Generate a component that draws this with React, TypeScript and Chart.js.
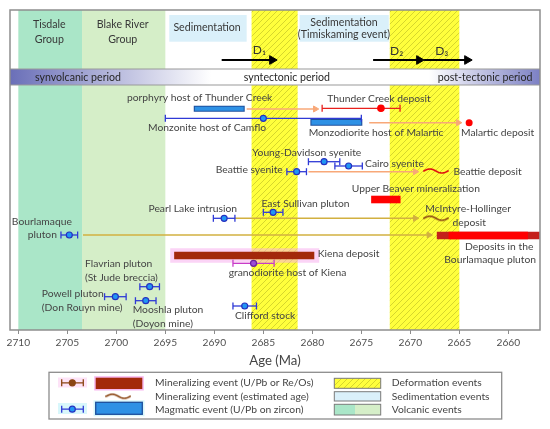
import React, { useEffect, useRef } from 'react';
import { Chart, registerables } from 'chart.js';
Chart.register(...registerables);

// ---------------- DATA ----------------
const AXIS_TICKS = [2710, 2705, 2700, 2695, 2690, 2685, 2680, 2675, 2670, 2665, 2660];
const AXIS_MIN = 2656.77;
const AXIS_MAX = 2710.85;

const VOLCANIC_GROUPS = ['Tisdale Group', 'Blake River Group'];
const VOLCANIC_FROM = [2710, 2703.5];
const VOLCANIC_TO = [2703.5, 2695];

const SEDIMENTATION_EVENTS = ['Sedimentation', 'Sedimentation (Timiskaming event)'];
const SEDIMENTATION_FROM = [2694.6, 2681.3];
const SEDIMENTATION_TO = [2686.7, 2672.2];

const DEFORMATION_FROM = [2686.2, 2672.1];
const DEFORMATION_TO = [2681.5, 2665.0];

const DEFORMATION_PHASES = ['D₁', 'D₂', 'D₃'];
const PHASE_FROM = [2689.25, 2673.8, 2668.6];
const PHASE_TO = [2684.1, 2669.1, 2664.2];

const PERIODS = ['synvolcanic period', 'syntectonic period', 'post-tectonic period'];

// Magmatic events, U/Pb on zircon (age ± error, Ma)
const MAGMATIC_NAMES = [
  'Monzonite host of Camflo', 'Young-Davidson syenite', 'Cairo syenite', 'Beattie syenite',
  'East Sullivan pluton', 'Pearl Lake intrusion', 'Bourlamaque pluton', 'granodiorite host of Kiena',
  'Flavrian pluton', 'Powell pluton', 'Mooshla pluton', 'Clifford stock',
];
const MAGMATIC_AGES = [2685.0, 2678.8, 2676.3, 2681.6, 2684.0, 2689.0, 2704.8, 2686.0, 2696.6, 2700.1, 2697.0, 2686.9];
const MAGMATIC_ERRORS = [10.0, 1.6, 1.4, 1.0, 1.0, 1.1, 0.85, 2.1, 1.0, 1.1, 1.05, 1.2];

// Magmatic events given as an age range
const MAGMATIC_RANGE_NAMES = ['porphyry host of Thunder Creek', 'Monzodiorite host of Malartic'];
const MAGMATIC_RANGE_FROM = [2692.1, 2680.2];
const MAGMATIC_RANGE_TO = [2686.9, 2674.9];

// Mineralizing events (U/Pb or Re/Os), dated points
const MINERAL_POINT_NAMES = ['Thunder Creek deposit', 'Malartic deposit'];
const MINERAL_POINT_AGES = [2673.0, 2664.0];
const MINERAL_POINT_OLDER = [2679.0, null];
const MINERAL_POINT_YOUNGER = [2671.05, null];

// Mineralizing events as ranges
const MINERAL_RANGE_NAMES = ['Kiena deposit', 'Upper Beaver mineralization', 'Deposits in the Bourlamaque pluton'];
const MINERAL_RANGE_FROM = [2694.1, 2674.0, 2667.3];
const MINERAL_RANGE_TO = [2679.8, 2671.0, 2656.8];

// Mineralizing events (estimated age)
const ESTIMATED_NAMES = ['Beattie deposit', 'McIntyre-Hollinger deposit'];
const ESTIMATED_AGES = [2667.4, 2667.4];

// Host → deposit links
const LINK_FROM = [2686.7, 2674.2, 2680.4, 2687.9, 2703.4];
const LINK_TO = [2679.7, 2665.1, 2669.5, 2669.5, 2668.1];

// ---------------- LAYOUT (row positions, styles) ----------------
const Y_MIN = 0;
const Y_MAX = 320;
const HEADER_BOX = [5, 31.7];
const PERIOD_BAR = [59, 75];
const PHASE_ROW = 50;
const MAGMATIC_ROWS = [108.3, 151.7, 156, 161.7, 202.3, 208.3, 225, 253.3, 276.7, 286.7, 290.7, 296];
const MAGMATIC_RANGE_ROWS = [98.7, 112.3];
const MAGMATIC_RANGE_H = [6, 6.7];
const MINERAL_POINT_ROWS = [98.3, 112.7];
const MINERAL_RANGE_ROWS = [245.5, 189.5, 225.5];
const ESTIMATED_ROWS = [161, 208.3];
const LINK_ROWS = [99, 112.7, 161.7, 208.3, 225];
const LINK_KIND = ['orange', 'orange', 'orange', 'gold', 'gold'];

const FONT = 'Lato, "Open Sans", sans-serif';
const TEXT = '#454545';
const LABEL_SIZE = 10.3;

// text labels: [text, age, row, align, style]
const LABELS: [string, number, number, CanvasTextAlign, string?][] = [
  ['Tisdale', 2706.84, 15, 'center', 'head'],
  ['Group', 2706.84, 29.3, 'center', 'head'],
  ['Blake River', 2699.35, 15, 'center', 'head'],
  ['Group', 2699.35, 29.3, 'center', 'head'],
  ['Sedimentation', 2690.74, 17.6, 'center', 'head'],
  ['Sedimentation', 2676.77, 12.7, 'center', 'head'],
  ['(Timiskaming event)', 2676.77, 24.5, 'center', 'head'],
  ['D₁', 2685.4, 40.5, 'center', 'phase'],
  ['D₂', 2671.4, 40.7, 'center', 'phase'],
  ['D₃', 2666.8, 40.7, 'center', 'phase'],
  ['synvolcanic period', 2708.3, 67.5, 'left', 'period'],
  ['syntectonic period', 2682.6, 67.5, 'center', 'period'],
  ['post-tectonic period', 2657.55, 67.5, 'right', 'period'],
  ['porphyry host of Thunder Creek', 2691.5, 88, 'center'],
  ['Thunder Creek deposit', 2673.2, 89, 'center'],
  ['Monzonite host of Camflo', 2690.74, 117.3, 'center'],
  ['Monzodiorite host of Malartic', 2673.5, 122.7, 'center'],
  ['Malartic deposit', 2661.1, 122.7, 'center'],
  ['Young-Davidson syenite', 2680.57, 142.3, 'center'],
  ['Cairo syenite', 2674.62, 154, 'left'],
  ['Beattie syenite', 2683.02, 160, 'right'],
  ['Beattie deposit', 2665.6, 161.7, 'left'],
  ['Upper Beaver mineralization', 2669.44, 178.3, 'center'],
  ['East Sullivan pluton', 2685.2, 194, 'left'],
  ['Pearl Lake intrusion', 2692.2, 198.3, 'center'],
  ['McIntyre-Hollinger', 2664.1, 198.3, 'center'],
  ['deposit', 2664.0, 212.7, 'center'],
  ['Bourlamaque', 2707.6, 211.7, 'center'],
  ['pluton', 2707.55, 225, 'center'],
  ['Deposits in the', 2657.45, 236.7, 'right'],
  ['Bourlamaque pluton', 2657.17, 250, 'right'],
  ['Kiena deposit', 2679.45, 244, 'left'],
  ['granodiorite host of Kiena', 2682.53, 262.7, 'center'],
  ['Flavrian pluton', 2703.2, 254, 'left'],
  ['(St Jude breccia)', 2703.2, 267.7, 'left'],
  ['Powell pluton', 2707.6, 283.3, 'left'],
  ['(Don Rouyn mine)', 2707.6, 297.3, 'left'],
  ['Mooshla pluton', 2698.33, 300, 'left'],
  ['(Doyon mine)', 2698.33, 313.3, 'left'],
  ['Clifford stock', 2687.9, 306, 'left'],
];

const C = {
  tisdale: '#aae6c8',
  blake: '#d5eec8',
  sed: '#daf0fa',
  yellow: '#ffff3c',
  hatch: '#d6d62c',
  blueLine: '#2f3ad6',
  blueDot: '#2196f3',
  blueDotEdge: '#2430c0',
  blueBar: '#2e91e5',
  blueBarEdge: '#1d4f9c',
  red: '#ff0000',
  redLine: '#e8201c',
  darkRed: '#a3290b',
  bourlEnd: '#c4201a',
  pinkHalo: 'rgba(247,170,238,0.5)',
  magenta: '#c83cc8',
  purpleDot: '#9b4fd6',
  purpleEdge: '#6a1fa0',
  orange: '#f8a878',
  gold: '#d2b040',
  brown: '#8b4513',
  frame: '#8e8e8e',
};

// ---------------- helpers ----------------
function makeHatch(): HTMLCanvasElement {
  const c = document.createElement('canvas');
  c.width = 6; c.height = 6;
  const g = c.getContext('2d')!;
  g.fillStyle = C.yellow; g.fillRect(0, 0, 6, 6);
  g.strokeStyle = C.hatch; g.lineWidth = 1;
  g.beginPath();
  g.moveTo(0, 6); g.lineTo(6, 0);
  g.moveTo(-1, 1); g.lineTo(1, -1);
  g.moveTo(5, 7); g.lineTo(7, 5);
  g.stroke();
  return c;
}

function makeSquiggle(color: string): HTMLCanvasElement {
  const c = document.createElement('canvas');
  c.width = 26; c.height = 8;
  const g = c.getContext('2d')!;
  g.strokeStyle = color; g.lineWidth = 1.7; g.lineCap = 'round';
  g.beginPath();
  for (let i = 0; i <= 30; i++) {
    const t = i / 30;
    const x = 1 + t * 24;
    const y = 4 - Math.sin(t * Math.PI * 2) * 2.0;
    if (i === 0) g.moveTo(x, y); else g.lineTo(x, y);
  }
  g.stroke();
  return c;
}

function seg(a: number, b: number, y: number, color: string, w: number) {
  return {
    data: [{ x: a, y }, { x: b, y }],
    borderColor: color, borderWidth: w, borderCapStyle: 'butt',
    pointRadius: 0,
  };
}

function arrow(a: number, b: number, y: number, color: string, w: number, r: number) {
  return {
    data: [{ x: a, y }, { x: b, y }],
    borderColor: color, borderWidth: w, borderCapStyle: 'butt',
    pointStyle: 'triangle', pointRotation: 90,
    pointRadius: [0, r], pointBackgroundColor: color, pointBorderColor: color, pointBorderWidth: 1,
  };
}

function errorBar(age: number, older: number, younger: number, y: number, line: string, fill: string, edge: string, r = 3) {
  return {
    data: [{ x: older, y }, { x: age, y }, { x: younger, y }],
    borderColor: line, borderWidth: 1.3,
    pointStyle: ['line', 'circle', 'line'],
    pointRotation: [90, 0, 90],
    pointRadius: [3.5, r, 3.5],
    pointBorderColor: [line, edge, line],
    pointBackgroundColor: [line, fill, line],
    pointBorderWidth: [1.3, 1.2, 1.3],
  };
}

function point(age: number, y: number, style: any, color: string, r: number) {
  return {
    data: [{ x: age, y }],
    showLine: false,
    pointStyle: style, pointRadius: r,
    pointBackgroundColor: color, pointBorderColor: color, pointBorderWidth: 0,
  };
}

function buildDatasets() {
  const list: any[] = [];
  const INSET = 0.11;
  PHASE_FROM.forEach((a, i) => list.push(arrow(a, PHASE_TO[i], PHASE_ROW, '#000000', 2, 5)));
  LINK_FROM.forEach((a, i) => list.push(arrow(a, LINK_TO[i], LINK_ROWS[i], LINK_KIND[i] === 'gold' ? C.gold : C.orange, 1.4, 3.5)));
  MAGMATIC_RANGE_FROM.forEach((a, i) => {
    const b = MAGMATIC_RANGE_TO[i];
    const y = MAGMATIC_RANGE_ROWS[i];
    const h = MAGMATIC_RANGE_H[i];
    list.push(seg(a, b, y, C.blueBarEdge, h));
    list.push(seg(a - INSET, b + INSET, y, C.blueBar, h - 2));
  });
  // Kiena (with halo)
  list.push(seg(MINERAL_RANGE_FROM[0] + 0.4, MINERAL_RANGE_TO[0] - 0.5, MINERAL_RANGE_ROWS[0], C.pinkHalo, 14.4));
  list.push(seg(MINERAL_RANGE_FROM[0], MINERAL_RANGE_TO[0], MINERAL_RANGE_ROWS[0], C.darkRed, 7.6));
  // Upper Beaver
  list.push(seg(MINERAL_RANGE_FROM[1], MINERAL_RANGE_TO[1], MINERAL_RANGE_ROWS[1], C.red, 7.6));
  // Bourlamaque deposits (dark ends)
  list.push(seg(MINERAL_RANGE_FROM[2], MINERAL_RANGE_TO[2], MINERAL_RANGE_ROWS[2], C.bourlEnd, 7.6));
  list.push(seg(MINERAL_RANGE_FROM[2] - 1.2, MINERAL_RANGE_TO[2] + 1.2, MINERAL_RANGE_ROWS[2], C.red, 7.6));
  MAGMATIC_AGES.forEach((age, i) => {
    const e = MAGMATIC_ERRORS[i];
    const isKiena = MAGMATIC_NAMES[i] === 'granodiorite host of Kiena';
    const ds = isKiena
      ? errorBar(age, age + e, age - e, MAGMATIC_ROWS[i], C.magenta, C.purpleDot, C.purpleEdge)
      : errorBar(age, age + e, age - e, MAGMATIC_ROWS[i], C.blueLine, C.blueDot, C.blueDotEdge);
    if (MAGMATIC_NAMES[i] === 'Monzonite host of Camflo') ds.borderWidth = 1.2;
    list.push(ds);
  });
  MINERAL_POINT_AGES.forEach((age, i) => {
    const o = MINERAL_POINT_OLDER[i];
    const yv = MINERAL_POINT_YOUNGER[i];
    if (o != null && yv != null) list.push(errorBar(age, o, yv, MINERAL_POINT_ROWS[i], C.redLine, C.red, C.red, 3.2));
    else list.push(point(age, MINERAL_POINT_ROWS[i], 'circle', C.red, 3.5));
  });
  const redSq = makeSquiggle('#e01010');
  const brownSq = makeSquiggle(C.brown);
  ESTIMATED_AGES.forEach((age, i) => list.push(point(age, ESTIMATED_ROWS[i], i === 0 ? redSq : brownSq, C.red, 5)));
  return list.map((d, i) => ({ ...d, order: list.length - i }));
}

// ---------------- plugins ----------------
function makeBackgroundPlugin(hatch: CanvasPattern | null) {
  return {
    id: 'bands',
    beforeDatasetsDraw(chart: any) {
      const { ctx, chartArea: ca, scales } = chart;
      const xs = scales.x, ys = scales.y;
      ctx.save();
      const top = ys.getPixelForValue(Y_MIN), bot = ys.getPixelForValue(Y_MAX);
      [C.tisdale, C.blake].forEach((col, i) => {
        const x1 = xs.getPixelForValue(VOLCANIC_FROM[i]);
        const x2 = xs.getPixelForValue(VOLCANIC_TO[i]);
        ctx.fillStyle = col;
        ctx.fillRect(x1, top, x2 - x1, bot - top);
      });
      DEFORMATION_FROM.forEach((a, i) => {
        const x1 = xs.getPixelForValue(a);
        const x2 = xs.getPixelForValue(DEFORMATION_TO[i]);
        ctx.fillStyle = hatch || C.yellow;
        ctx.fillRect(x1, top, x2 - x1, bot - top);
      });
      SEDIMENTATION_FROM.forEach((a, i) => {
        const x1 = xs.getPixelForValue(a);
        const x2 = xs.getPixelForValue(SEDIMENTATION_TO[i]);
        const y1 = ys.getPixelForValue(HEADER_BOX[0]);
        const y2 = ys.getPixelForValue(HEADER_BOX[1]);
        ctx.fillStyle = C.sed;
        ctx.fillRect(x1, y1, x2 - x1, y2 - y1);
      });
      const py1 = ys.getPixelForValue(PERIOD_BAR[0]);
      const py2 = ys.getPixelForValue(PERIOD_BAR[1]);
      const g = ctx.createLinearGradient(ca.left, 0, ca.right, 0);
      g.addColorStop(0, '#6a6fb8');
      g.addColorStop(0.38, '#ffffff');
      g.addColorStop(0.79, '#ffffff');
      g.addColorStop(1, '#7c80c4');
      ctx.fillStyle = g;
      ctx.fillRect(ca.left, py1, ca.right - ca.left, py2 - py1);
      ctx.strokeStyle = '#9a9a9a';
      ctx.lineWidth = 1.2;
      ctx.beginPath();
      ctx.moveTo(ca.left, py1); ctx.lineTo(ca.right, py1);
      ctx.moveTo(ca.left, py2); ctx.lineTo(ca.right, py2);
      ctx.stroke();
      ctx.restore();
    },
    afterDatasetsDraw(chart: any) {
      const { ctx, chartArea: ca, scales } = chart;
      const xs = scales.x, ys = scales.y;
      ctx.save();
      ctx.textBaseline = 'middle';
      LABELS.forEach(([t, age, row, align, style]) => {
        if (style === 'head') { ctx.font = `10.6px ${FONT}`; ctx.fillStyle = '#383838'; }
        else if (style === 'phase') { ctx.font = `12px ${FONT}`; ctx.fillStyle = '#333333'; }
        else if (style === 'period') { ctx.font = `10.6px ${FONT}`; ctx.fillStyle = '#262626'; }
        else { ctx.font = `${LABEL_SIZE}px ${FONT}`; ctx.fillStyle = TEXT; }
        ctx.textAlign = align;
        ctx.fillText(t, xs.getPixelForValue(age), ys.getPixelForValue(row));
      });
      ctx.strokeStyle = C.frame;
      ctx.lineWidth = 1.5;
      ctx.strokeRect(ca.left, ca.top, ca.right - ca.left, ca.bottom - ca.top);
      ctx.restore();
    },
  };
}

function makeLegendPlugin(hatch: CanvasPattern | null, brownSq: HTMLCanvasElement) {
  return {
    id: 'customLegend',
    afterDraw(chart: any) {
      const ctx: CanvasRenderingContext2D = chart.ctx;
      ctx.save();
      ctx.fillStyle = '#ffffff';
      ctx.fillRect(49, 372.3, 452.7, 46.7);
      ctx.strokeStyle = '#8c8c8c';
      ctx.lineWidth = 1.3;
      ctx.strokeRect(49, 372.3, 452.7, 46.7);
      const rows = [382.8, 396.3, 409.2];
      ctx.fillStyle = '#fde3f7';
      ctx.fillRect(58, 377.5, 29, 10);
      ctx.fillStyle = '#d8f7fb';
      ctx.fillRect(58, 403, 29, 11);
      ctx.fillRect(93.5, 400.3, 51, 16);
      const eb = (y: number, line: string, fill: string, edge: string) => {
        ctx.strokeStyle = line; ctx.lineWidth = 1.3;
        ctx.beginPath();
        ctx.moveTo(61.7, y); ctx.lineTo(83.3, y);
        ctx.moveTo(61.7, y - 3.5); ctx.lineTo(61.7, y + 3.5);
        ctx.moveTo(83.3, y - 3.5); ctx.lineTo(83.3, y + 3.5);
        ctx.stroke();
        ctx.beginPath(); ctx.arc(72.3, y, 3, 0, Math.PI * 2);
        ctx.fillStyle = fill; ctx.fill();
        ctx.strokeStyle = edge; ctx.lineWidth = 1.2; ctx.stroke();
      };
      eb(rows[0], C.brown, C.brown, C.brown);
      eb(rows[2], C.blueLine, C.blueDot, C.blueDotEdge);
      ctx.fillStyle = '#f7b8ef';
      ctx.fillRect(94.2, 376.2, 49.6, 14.3);
      ctx.fillStyle = C.darkRed;
      ctx.fillRect(95.7, 377.7, 46.6, 11.3);
      ctx.fillStyle = C.blueBar;
      ctx.fillRect(95.7, 402.3, 46.6, 12);
      ctx.strokeStyle = C.blueBarEdge; ctx.lineWidth = 1.3;
      ctx.strokeRect(95.7, 402.3, 46.6, 12);
      ctx.drawImage(brownSq, 118.3 - brownSq.width / 2, rows[1] - brownSq.height / 2);
      const rx = 334.3, rw = 46.4;
      ctx.fillStyle = hatch || C.yellow;
      ctx.fillRect(rx, 378.3, rw, 10);
      ctx.fillStyle = C.sed;
      ctx.fillRect(rx, 391.7, rw, 9.3);
      ctx.fillStyle = C.tisdale;
      ctx.fillRect(rx, 404.3, 355 - rx, 10.7);
      ctx.fillStyle = C.blake;
      ctx.fillRect(355, 404.3, rx + rw - 355, 10.7);
      ctx.strokeStyle = '#7a7a7a'; ctx.lineWidth = 1;
      ctx.strokeRect(rx, 378.3, rw, 10);
      ctx.strokeRect(rx, 391.7, rw, 9.3);
      ctx.strokeRect(rx, 404.3, rw, 10.7);
      ctx.font = `${LABEL_SIZE}px ${FONT}`;
      ctx.fillStyle = TEXT;
      ctx.textBaseline = 'middle';
      ctx.textAlign = 'left';
      ctx.fillText('Mineralizing event (U/Pb or Re/Os)', 155, rows[0]);
      ctx.fillText('Mineralizing event (estimated age)', 155, rows[1]);
      ctx.fillText('Magmatic event (U/Pb on zircon)', 155, rows[2]);
      ctx.fillText('Deformation events', 391.7, rows[0]);
      ctx.fillText('Sedimentation events', 391.7, rows[1]);
      ctx.fillText('Volcanic events', 391.7, rows[2]);
      ctx.restore();
    },
  };
}

// ---------------- component ----------------
export default function App() {
  const ref = useRef<HTMLCanvasElement>(null);
  useEffect(() => {
    document.body.style.margin = '0';
    let chart: Chart | null = null;
    let cancelled = false;
    const start = () => {
      if (cancelled || !ref.current) return;
      const hatchCanvas = makeHatch();
      const tmp = document.createElement('canvas').getContext('2d')!;
      const hatch = tmp.createPattern(hatchCanvas, 'repeat');
      const brownSq = makeSquiggle(C.brown);
      chart = new Chart(ref.current, {
        type: 'line',
        data: { datasets: buildDatasets() as any },
        options: {
          responsive: false,
          animation: false,
          events: [],
          layout: { padding: { left: 10, right: 10, top: 10, bottom: 59 } },
          plugins: { legend: { display: false }, tooltip: { enabled: false } },
          elements: { line: { tension: 0 } },
          scales: {
            x: {
              type: 'linear',
              min: AXIS_MIN,
              max: AXIS_MAX,
              reverse: true,
              afterBuildTicks: (s: any) => { s.ticks = AXIS_TICKS.map((v) => ({ value: v })); },
              afterFit: (s: any) => { s.height = 40; },
              grid: { display: true, drawOnChartArea: false, drawTicks: true, tickLength: 4, color: '#8c8c8c', lineWidth: 1 },
              border: { display: false },
              ticks: {
                color: '#505050',
                font: { family: FONT, size: 10.2 },
                padding: 3,
                maxRotation: 0,
                autoSkip: false,
                callback: (v: any) => String(v),
              },
              title: {
                display: true,
                text: 'Age (Ma)',
                color: TEXT,
                font: { family: FONT, size: 13.2 },
                padding: { top: 0, bottom: 1 },
              },
            },
            y: { type: 'linear', min: Y_MIN, max: Y_MAX, reverse: true, display: false },
          },
        } as any,
        plugins: [makeBackgroundPlugin(hatch), makeLegendPlugin(hatch, brownSq)],
      });
    };
    const fonts: any = (document as any).fonts;
    if (fonts && fonts.load) fonts.load(`10px Lato`).then(start, start);
    else start();
    return () => {
      cancelled = true;
      if (chart) chart.destroy();
    };
  }, []);
  return (
    <div style={{ width: 550, height: 429, overflow: 'hidden' }}>
      <canvas ref={ref} width={550} height={429} style={{ display: 'block', width: 550, height: 429 }} />
    </div>
  );
}
